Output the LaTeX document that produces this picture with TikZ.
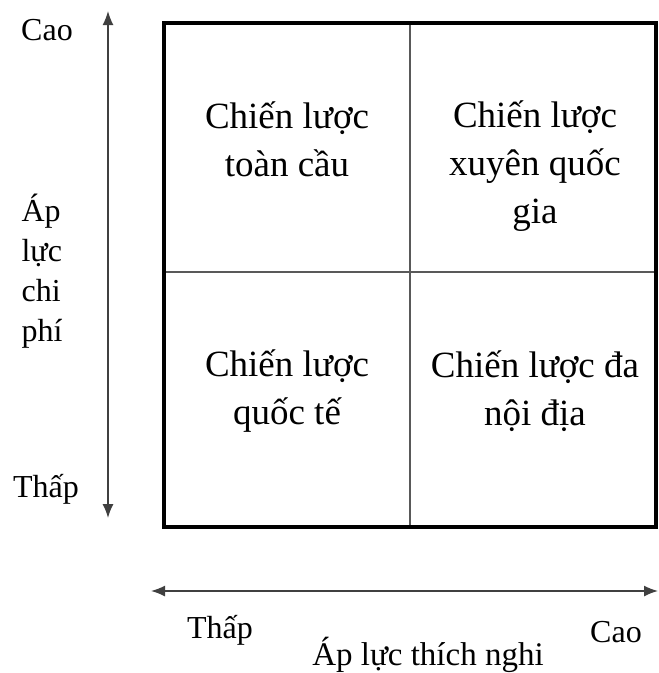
\documentclass[tikz,border=0pt]{standalone}
\usepackage{fontspec}
\setmainfont{Liberation Serif}
\usetikzlibrary{arrows.meta}
\begin{document}
\begin{tikzpicture}[x=1pt,y=-1pt,
  quad/.style={align=center,font=\fontsize{37}{48}\selectfont,inner sep=0pt},
  side/.style={font=\fontsize{32}{40}\selectfont,inner sep=0pt},
  axis/.style={line width=1.5pt,draw=black!75,{Latex[length=14pt,width=11pt]}-{Latex[length=14pt,width=11pt]}},
  frame/.style={line width=4.5pt,draw=black},
  divider/.style={line width=2pt,draw=black!65}]
\useasboundingbox (0,0) rectangle (659,673);
\coordinate (tl) at (164,23);
\coordinate (br) at (656,527);
\coordinate (vt) at (410,23);
\coordinate (vb) at (410,527);
\coordinate (hl) at (164,272);
\coordinate (hr) at (656,272);
\draw[divider] (vt) -- (vb);
\draw[divider] (hl) -- (hr);
\draw[frame] (tl) rectangle (br);
\coordinate (yt) at (108,11);
\coordinate (yb) at (108,518);
\draw[axis] (yb) -- (yt);
\coordinate (xl) at (151,591);
\coordinate (xr) at (658,591);
\draw[axis] (xl) -- (xr);
\node[quad] (q1) at (287,139) {Chiến lược\\toàn cầu};
\node[quad] (q2) at (535,166) {Chiến lược\\xuyên quốc\\gia};
\node[quad] (q3) at (287,391) {Chiến lược\\quốc tế};
\node[quad] (q4) at (535,391) {Chiến lược đa\\nội địa};
\node[side] (ycao) at (47,30) {Cao};
\node[side,align=left] (ylab) at (42,271) {Áp\\lực\\chi\\phí};
\node[side] (ythap) at (46,489) {Thấp};
\node[side] (xthap) at (220,630) {Thấp};
\node[side] (xcao) at (616,632) {Cao};
\node[side,font=\fontsize{33}{40}\selectfont] (xlab) at (428,655) {Áp lực thích nghi};
\end{tikzpicture}
\end{document}
